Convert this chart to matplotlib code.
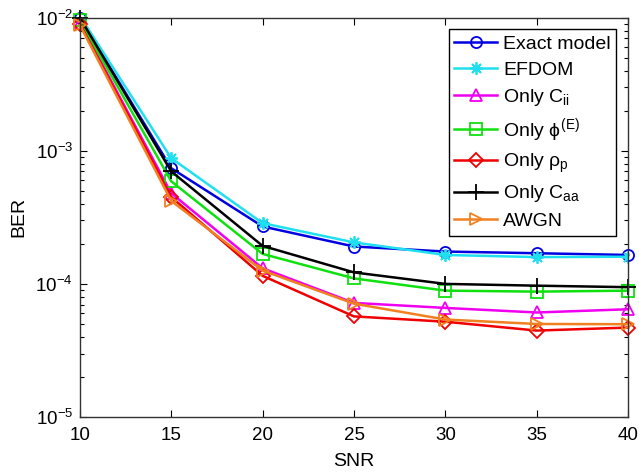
"""
BER vs SNR comparison plot
"""

import numpy as np
import matplotlib
matplotlib.use('Agg')
import matplotlib.pyplot as plt
from matplotlib.ticker import LogLocator, NullFormatter

plt.rcParams['font.family'] = ['Liberation Sans', 'DejaVu Sans']
plt.rcParams['mathtext.fontset'] = 'custom'
plt.rcParams['mathtext.rm'] = 'Liberation Sans'
plt.rcParams['mathtext.it'] = 'Liberation Sans'
plt.rcParams['mathtext.bf'] = 'Liberation Sans:bold'
plt.rcParams['axes.unicode_minus'] = False

# data
snr = [10, 15, 20, 25, 30, 35, 40]
exact_model = [1.0e-2, 7.4e-4, 2.70e-4, 1.91e-4, 1.75e-4, 1.70e-4, 1.65e-4]
efdom = [1.03e-2, 8.8e-4, 2.86e-4, 2.05e-4, 1.65e-4, 1.59e-4, 1.60e-4]
only_cii = [9.2e-3, 4.8e-4, 1.31e-4, 7.2e-5, 6.6e-5, 6.1e-5, 6.45e-5]
only_phi = [9.6e-3, 5.9e-4, 1.68e-4, 1.10e-4, 8.9e-5, 8.75e-5, 8.9e-5]
only_rho = [9.0e-3, 4.5e-4, 1.15e-4, 5.7e-5, 5.2e-5, 4.46e-5, 4.7e-5]
only_caa = [1.0e-2, 7.0e-4, 1.93e-4, 1.22e-4, 1.0e-4, 9.7e-5, 9.45e-5]
awgn = [8.8e-3, 4.2e-4, 1.26e-4, 7.1e-5, 5.4e-5, 5.0e-5, 4.98e-5]

series = [
    (exact_model, 'Exact model', '#0000E0', 'o'),
    (efdom, 'EFDOM', '#20E0F0', (8, 2, 0)),
    (only_cii, 'Only C$_{ii}$', '#F000F0', '^'),
    (only_phi, 'Only $\\phi^{(E)}$', '#10E010', 's'),
    (only_rho, 'Only $\\rho_p$', '#F00000', 'D'),
    (only_caa, 'Only C$_{aa}$', '#000000', '+'),
    (awgn, 'AWGN', '#F08020', '>'),
]

fig = plt.figure(figsize=(6.39, 4.72), dpi=100)
ax = fig.add_axes([0.125, 0.1165, 0.858, 0.846])

for vals, label, color, marker in series:
    ms = 8
    if marker == 'D':
        ms = 7
    if marker == (8, 2, 0):
        ms = 9
    if marker == '+':
        ms = 11
    ax.semilogy(snr, vals, color=color, marker=marker, markerfacecolor='none',
                markeredgecolor=color, markeredgewidth=1.3, ms=ms, lw=1.8,
                label=label, clip_on=False if marker != (8, 2, 0) else True)

ax.set_xlim(10, 40)
ax.set_ylim(1e-5, 1e-2)
ax.set_xticks(snr)
ax.yaxis.set_major_locator(LogLocator(base=10, numticks=10))
ax.yaxis.set_minor_locator(LogLocator(base=10, subs=np.arange(2, 10), numticks=10))
ax.yaxis.set_minor_formatter(NullFormatter())
ax.tick_params(which='both', direction='in', top=True, right=True, labelsize=13.5)
ax.tick_params(axis='x', pad=7)
ax.tick_params(axis='y', pad=5)
ax.tick_params(which='major', length=5, width=0.8)
ax.tick_params(which='minor', length=3, width=0.8)
for sp in ax.spines.values():
    sp.set_linewidth(1.0)
    sp.set_color('#333333')

ax.set_xlabel('SNR', fontsize=14, labelpad=7)
ax.set_ylabel('BER', fontsize=14, labelpad=6)

leg = ax.legend(loc='upper right', fontsize=14, fancybox=False, framealpha=1,
                edgecolor='black', handlelength=2.2, handletextpad=0.3,
                labelspacing=0.42, borderpad=0.3, borderaxespad=0.6)
leg.get_frame().set_linewidth(1.0)

plt.savefig('out.png', dpi=100)
